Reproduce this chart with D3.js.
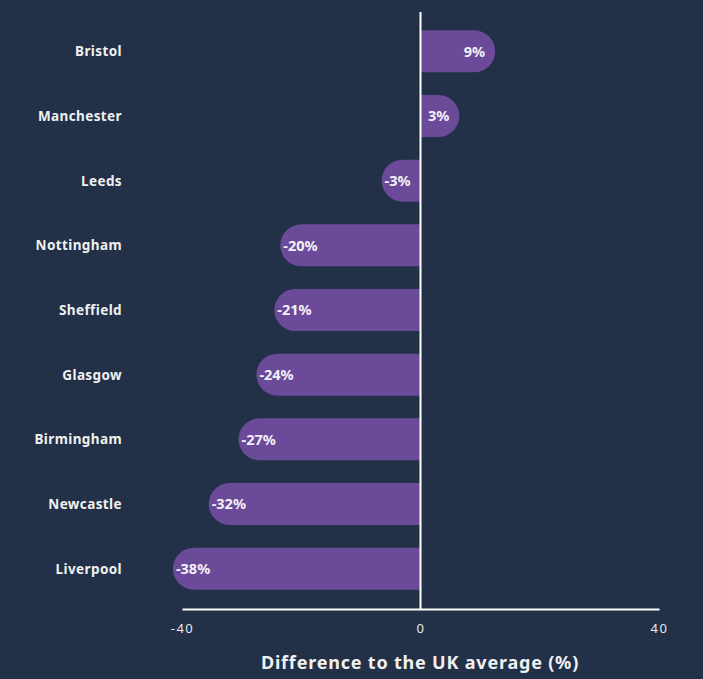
<!DOCTYPE html>
<html><head><meta charset="utf-8">
<script src="https://cdn.jsdelivr.net/npm/d3@7"></script>
<style>
html,body{margin:0;padding:0;background:#223048;}
svg{display:block;}
</style></head>
<body>
<script>
const categories = ["Bristol","Manchester","Leeds","Nottingham","Sheffield","Glasgow","Birmingham","Newcastle","Liverpool"];
const values = [9,3,-3,-20,-21,-24,-27,-32,-38];
const tickValues = [-40,0,40];
const axisTitle = "Difference to the UK average (%)";

const W=703,H=679;
const svg=d3.select("body").append("svg").attr("width",W).attr("height",H);
svg.append("rect").attr("width",W).attr("height",H).attr("fill","#223048");

const x=d3.scaleLinear().domain([-40,40]).range([182,659]);
const y=d3.scaleBand().domain(categories).range([19,601]).paddingInner(0.35).paddingOuter(0.175);
const r=21;
const barColor="#6b4a99";
const font="'Noto Sans', 'Open Sans', sans-serif";

function barPath(v, yc){
  const x0=x(0), xv=x(v);
  const top=yc-r, bot=yc+r;
  if(v>=0){
    return `M${x0},${top}L${xv},${top}A${r},${r} 0 0 1 ${xv},${bot}L${x0},${bot}Z`;
  } else {
    return `M${x0},${top}L${xv},${top}A${r},${r} 0 0 0 ${xv},${bot}L${x0},${bot}Z`;
  }
}

const data=categories.map((c,i)=>({c,v:values[i]}));
const g=svg.append("g");
g.selectAll("path.bar").data(data).join("path").attr("class","bar")
  .attr("d",d=>barPath(d.v, y(d.c)+y.bandwidth()/2))
  .attr("fill",barColor);

g.selectAll("text.val").data(data).join("text").attr("class","val")
  .attr("x",d=>d.v>=0? x(d.v)+r-10 : x(d.v)-r+3)
  .attr("y",d=>y(d.c)+y.bandwidth()/2)
  .attr("dy","0.36em")
  .attr("text-anchor",d=>d.v>=0?"end":"start")
  .attr("fill","#f3f0f7").attr("font-family",font).attr("font-weight",700).attr("font-size",14.5)
  .text(d=>d.v+"%");

g.selectAll("text.cat").data(data).join("text").attr("class","cat")
  .attr("x",122).attr("y",d=>y(d.c)+y.bandwidth()/2).attr("dy","0.36em")
  .attr("text-anchor","end").attr("fill","#f0f0f0")
  .attr("font-family",font).attr("font-weight",700).attr("font-size",13.5)
  .attr("letter-spacing","0.4px")
  .text(d=>d.c);

// zero line
svg.append("line").attr("x1",x(0)).attr("x2",x(0)).attr("y1",12).attr("y2",609)
  .attr("stroke","#ffffff").attr("stroke-width",2);

// x axis
const axis=d3.axisBottom(x).tickValues(tickValues).tickSize(0).tickPadding(15).tickFormat(d=>d);
const ax=svg.append("g").attr("transform","translate(0,609)").call(axis);
ax.select(".domain").attr("stroke","#ffffff").attr("stroke-width",2);
ax.selectAll("text").attr("fill","#e8e8ee").attr("font-family",font).attr("font-size",13)
  .attr("letter-spacing","1.5px");

svg.append("text").attr("x",420).attr("y",669).attr("text-anchor","middle")
  .attr("fill","#f0f0f0").attr("font-family",font).attr("font-weight",700).attr("font-size",18)
  .attr("letter-spacing","0.8px").text(axisTitle);
</script>
</body></html>
